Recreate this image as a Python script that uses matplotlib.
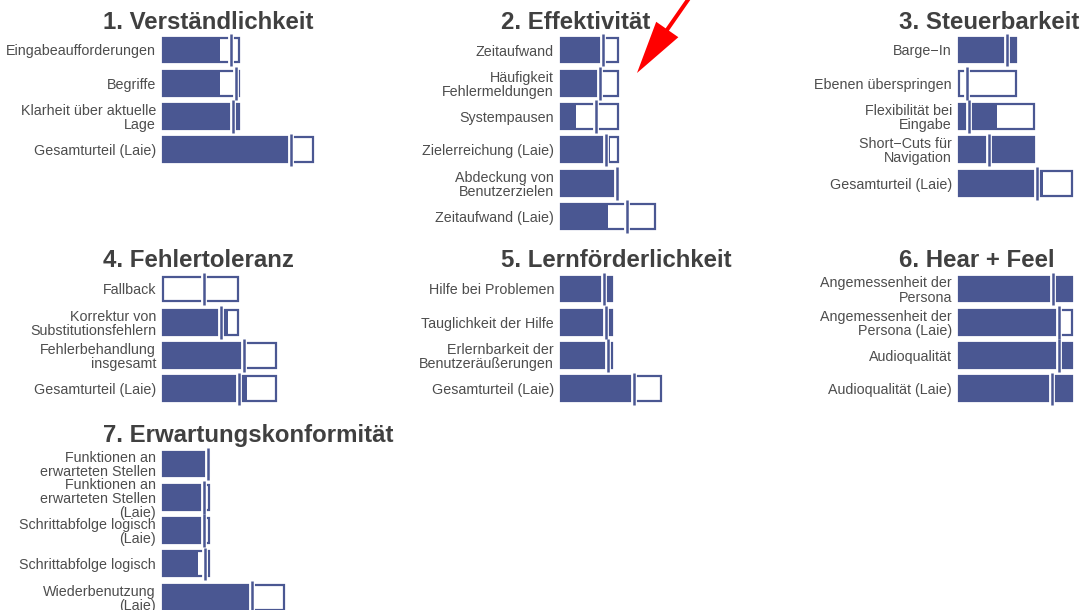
import matplotlib
matplotlib.use("Agg")
import matplotlib.pyplot as plt
from matplotlib.patches import Rectangle, FancyArrow

plt.rcParams['font.family'] = ['Liberation Sans', 'DejaVu Sans']

# values are bar lengths in chart units (1 unit = 1 px on the original)
titles = ["1. Verständlichkeit", "2. Effektivität", "3. Steuerbarkeit",
          "4. Fehlertoleranz", "5. Lernförderlichkeit", "6. Hear + Feel",
          "7. Erwartungskonformität"]

labels_1 = ["Eingabeaufforderungen", "Begriffe", "Klarheit über aktuelle\nLage",
            "Gesamturteil (Laie)"]
max_1 = [76, 76, 76, 150]
score_1 = [57, 57, 76, 129]
ref_1 = [68, 73, 70, 128]

labels_2 = ["Zeitaufwand", "Häufigkeit\nFehlermeldungen", "Systempausen",
            "Zielerreichung (Laie)", "Abdeckung von\nBenutzerzielen",
            "Zeitaufwand (Laie)"]
max_2 = [57, 57, 57, 57, 57, 94]
score_2 = [41, 39, 15, 49, 57, 47]
ref_2 = [42, 38.5, 35, 44.7, 56, 66]

labels_3 = ["Barge\u2212In", "Ebenen überspringen", "Flexibilität bei\nEingabe",
            "Short\u2212Cuts für\nNavigation", "Gesamturteil (Laie)"]
max_3 = [57, 57, 75, 75, 113]
score_3 = [57, 0, 38, 75, 84]
ref_3 = [48, 8, 10, 30, 78]

labels_4 = ["Fallback", "Korrektur von\nSubstitutionsfehlern",
            "Fehlerbehandlung\ninsgesamt", "Gesamturteil (Laie)"]
max_4 = [75, 75, 113, 113]
score_4 = [0, 65, 83, 84]
ref_4 = [41, 58, 81, 76]

labels_5 = ["Hilfe bei Problemen", "Tauglichkeit der Hilfe",
            "Erlernbarkeit der\nBenutzeräußerungen", "Gesamturteil (Laie)"]
max_5 = [51, 51, 51, 100]
score_5 = [51, 51, 51, 74]
ref_5 = [43, 45, 47, 73]

labels_6 = ["Angemessenheit der\nPersona", "Angemessenheit der\nPersona (Laie)",
            "Audioqualität", "Audioqualität (Laie)"]
max_6 = [113, 113, 113, 113]
score_6 = [113, 101, 113, 113]
ref_6 = [94, 100, 100, 93]

labels_7 = ["Funktionen an\nerwarteten Stellen",
            "Funktionen an\nerwarteten Stellen\n(Laie)",
            "Schrittabfolge logisch\n(Laie)", "Schrittabfolge logisch",
            "Wiederbenutzung\n(Laie)"]
max_7 = [46, 46, 46, 46, 121]
score_7 = [45, 41, 41, 35, 89]
ref_7 = [45, 41, 41, 42, 89]

panels = [
    (labels_1, max_1, score_1, ref_1),
    (labels_2, max_2, score_2, ref_2),
    (labels_3, max_3, score_3, ref_3),
    (labels_4, max_4, score_4, ref_4),
    (labels_5, max_5, score_5, ref_5),
    (labels_6, max_6, score_6, ref_6),
    (labels_7, max_7, score_7, ref_7),
]

W, H = 1083, 610
BLUE = '#4a5792'
ROW = 33.33
col_left = [163, 561, 959]
title_x = [103, 501, 899]
first_row = [50, 289, 464]
title_base = [29, 267, 442]

fig = plt.figure(figsize=(W / 100, H / 100), dpi=100)

for k, (labels, mx, sc, rf) in enumerate(panels):
    r, c = divmod(k, 3)
    n = len(labels)
    top = first_row[r] - ROW / 2
    width = 118
    ax = fig.add_axes([col_left[c] / W, 1 - (top + n * ROW) / H, width / W, n * ROW / H])
    ax.set_xlim(0, width)
    ax.set_ylim(n - 0.5, -0.5)
    for i in range(n):
        ax.barh(i, sc[i], height=0.75, left=0, color=BLUE, edgecolor='none',
                zorder=2, clip_on=False)
        ax.add_patch(Rectangle((0, i - 0.375), mx[i], 0.75, fill=False,
                               edgecolor=BLUE, linewidth=1.6, zorder=3, clip_on=False))
    ax.vlines(rf, [i - 0.49 for i in range(n)], [i + 0.49 for i in range(n)],
              colors='white', linewidth=4.2, zorder=4, clip_on=False)
    ax.vlines(rf, [i - 0.49 for i in range(n)], [i + 0.49 for i in range(n)],
              colors=BLUE, linewidth=1.8, zorder=5, clip_on=False)
    ax.set_yticks(range(n))
    ax.set_yticklabels(labels, fontsize=10.3, color='#4d4d4d', linespacing=1.0)
    ax.tick_params(length=0, pad=5)
    ax.set_xticks([])
    for s in ax.spines.values():
        s.set_visible(False)
    ax.patch.set_alpha(0)
    fig.text(title_x[c] / W, 1 - title_base[r] / H, titles[k], fontsize=17.3,
             fontweight='bold', color='#404040', ha='left', va='baseline')

# red arrow pointing at panel 2
over = fig.add_axes([0, 0, 1, 1], zorder=10)
over.set_xlim(0, W)
over.set_ylim(H, 0)
over.axis('off')
over.add_patch(FancyArrow(692, -6, 637 - 692, 73 + 6, width=4, head_width=27,
                          head_length=53, length_includes_head=True,
                          color='#ff0000', linewidth=0))

fig.savefig('out.png', dpi=100)
